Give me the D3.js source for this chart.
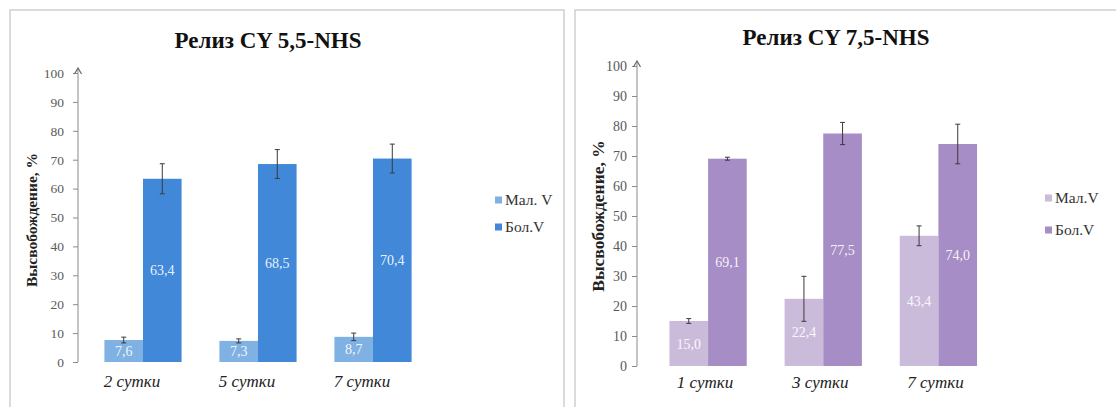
<!DOCTYPE html>
<html>
<head>
<meta charset="utf-8">
<script src="https://cdn.jsdelivr.net/npm/d3@7/dist/d3.min.js"></script>
<style>
  html, body { margin: 0; padding: 0; background: #fff; }
  svg { display: block; }
</style>
</head>
<body>
<svg id="chart" width="1116" height="407"></svg>
<script>
// Release of CY 5,5-NHS (panel A) and CY 7,5-NHS (panel B), %
const titleA = "Релиз CY 5,5-NHS";
const daysA = ["2 сутки", "5 сутки", "7 сутки"];
const smallA = [7.6, 7.3, 8.7];
const smallErrA = [1.0, 0.7, 1.3];
const largeA = [63.4, 68.5, 70.4];
const largeErrA = [5.2, 5.0, 5.0];

const titleB = "Релиз CY 7,5-NHS";
const daysB = ["1 сутки", "3 сутки", "7 сутки"];
const smallB = [15.0, 22.4, 43.4];
const smallErrB = [0.8, 7.5, 3.3];
const largeB = [69.1, 77.5, 74.0];
const largeErrB = [0.5, 3.7, 6.6];

const yTicks = [0, 10, 20, 30, 40, 50, 60, 70, 80, 90, 100];
const seriesKeys = ["small", "large"];
const yTitle = "Высвобождение, %";

const SERIF = "'Liberation Serif', 'DejaVu Serif', 'Times New Roman', Times, serif";

const svg = d3.select("#chart");

// panel frames
svg.append("rect").attr("x", 10).attr("y", 10).attr("width", 554).attr("height", 420)
  .attr("fill", "none").attr("stroke", "#cfcfcf").attr("stroke-width", 1.5);
svg.append("rect").attr("x", 575).attr("y", 10).attr("width", 560).attr("height", 420)
  .attr("fill", "none").attr("stroke", "#cfcfcf").attr("stroke-width", 1.5);

const fmt = v => d3.format(".1f")(v).replace(".", ",");

function drawPanel(cfg) {
  const g = svg.append("g");
  const y = d3.scaleLinear().domain([0, 100]).range([cfg.y0, cfg.y100]);
  const x0 = d3.scaleBand().domain(cfg.days).range(cfg.xRange).padding(0);
  const x1 = d3.scaleBand().domain(seriesKeys).range([0, x0.bandwidth()])
    .paddingInner(0).paddingOuter(cfg.outerPad);

  const rows = cfg.days.map((d, i) => ({
    day: d,
    bars: [
      { key: "small", v: cfg.small[i], e: cfg.smallErr[i] },
      { key: "large", v: cfg.large[i], e: cfg.largeErr[i] }
    ]
  }));
  const color = d3.scaleOrdinal().domain(seriesKeys).range(cfg.colors);

  // title
  g.append("text").attr("x", cfg.titleX).attr("y", cfg.titleY)
    .attr("text-anchor", "middle").attr("font-size", cfg.titleSize).attr("font-weight", "bold")
    .attr("font-family", SERIF).attr("fill", "#111").text(cfg.title);

  // y axis
  const axis = g.append("g").attr("transform", `translate(${cfg.axisX},0)`)
    .call(d3.axisLeft(y).tickValues(yTicks).tickSize(5).tickPadding(cfg.tickPad).tickFormat(d3.format("d")));
  axis.attr("font-family", SERIF);
  axis.select(".domain").attr("d", `M0,${cfg.y0}V${cfg.y100 - 4}`).attr("stroke", "#8a8a8a");
  axis.selectAll(".tick line").attr("stroke", "#8a8a8a");
  axis.selectAll(".tick text").attr("fill", "#5a5a5a").attr("font-size", cfg.tickSize);
  // open arrow head on the value axis
  axis.append("path").attr("d", `M-3.5,${cfg.y100 + 1}L0,${cfg.y100 - 5}L3.5,${cfg.y100 + 1}`)
    .attr("fill", "none").attr("stroke", "#6a6a6a").attr("stroke-width", 1.2);

  // axis title
  g.append("text").attr("transform", `translate(${cfg.yTitleX},${cfg.yTitleY}) rotate(-90)`)
    .attr("text-anchor", "middle").attr("font-size", cfg.yTitleSize).attr("font-weight", "bold")
    .attr("font-family", SERIF).attr("fill", "#222").text(yTitle);

  // bars
  const groups = g.selectAll(".grp").data(rows).join("g")
    .attr("transform", d => `translate(${x0(d.day)},0)`);
  groups.selectAll("rect").data(d => d.bars).join("rect")
    .attr("x", d => x1(d.key)).attr("width", x1.bandwidth())
    .attr("y", d => y(d.v)).attr("height", d => y(0) - y(d.v))
    .attr("fill", d => color(d.key));

  // value labels
  groups.selectAll(".val").data(d => d.bars).join("text")
    .attr("x", d => x1(d.key) + x1.bandwidth() / 2)
    .attr("y", d => y(d.v / 2) + 5)
    .attr("text-anchor", "middle").attr("font-size", cfg.valSize).attr("font-family", SERIF)
    .attr("fill", "#fff").attr("fill-opacity", 0.9).text(d => fmt(d.v));

  // error bars
  const err = groups.selectAll(".err").data(d => d.bars).join("g")
    .attr("transform", d => `translate(${x1(d.key) + x1.bandwidth() / 2},0)`)
    .attr("stroke", "#3a3a3a").attr("stroke-width", 1);
  err.append("line").attr("y1", d => y(d.v + d.e)).attr("y2", d => y(d.v - d.e));
  err.append("line").attr("x1", -2.5).attr("x2", 2.5).attr("y1", d => y(d.v + d.e)).attr("y2", d => y(d.v + d.e));
  err.append("line").attr("x1", -2.5).attr("x2", 2.5).attr("y1", d => y(d.v - d.e)).attr("y2", d => y(d.v - d.e));

  // category labels
  g.selectAll(".cat").data(cfg.days).join("text")
    .attr("x", d => x0(d) + x0.bandwidth() / 2 + cfg.catShift)
    .attr("y", cfg.catY).attr("text-anchor", "middle")
    .attr("font-size", cfg.catSize).attr("font-style", "italic").attr("font-family", SERIF)
    .attr("fill", "#222").text(d => d);

  // legend
  const leg = g.selectAll(".leg").data(seriesKeys).join("g")
    .attr("transform", (d, i) => `translate(${cfg.legX},${cfg.legY[i]})`);
  leg.append("rect").attr("x", 0).attr("y", -3.5).attr("width", 7).attr("height", 7)
    .attr("fill", d => color(d));
  leg.append("text").attr("x", 10).attr("y", 5).attr("font-size", cfg.legSize)
    .attr("font-family", SERIF).attr("fill", "#333").text((d, i) => cfg.legLabels[i]);
}

drawPanel({
  title: titleA, days: daysA, small: smallA, smallErr: smallErrA, large: largeA, largeErr: largeErrA,
  colors: ["#7fb1e3", "#4189d8"],
  y0: 362, y100: 73, axisX: 78, xRange: [85.5, 430.5], outerPad: 0.49,
  titleX: 268, titleY: 48, titleSize: 23, tickSize: 13.5, tickPad: 9,
  yTitleX: 37, yTitleY: 220, yTitleSize: 15.5, valSize: 14,
  catY: 387, catSize: 17, catShift: -11,
  legX: 495, legY: [200, 227], legSize: 15.5, legLabels: ["Мал. V", "Бол.V"]
});

drawPanel({
  title: titleB, days: daysB, small: smallB, smallErr: smallErrB, large: largeB, largeErr: largeErrB,
  colors: ["#cbbbdb", "#a68dc5"],
  y0: 366, y100: 66, axisX: 637, xRange: [650.5, 996], outerPad: 0.49,
  titleX: 836, titleY: 45, titleSize: 23, tickSize: 14, tickPad: 5,
  yTitleX: 604, yTitleY: 216, yTitleSize: 17.5, valSize: 14,
  catY: 388, catSize: 17, catShift: -3,
  legX: 1045, legY: [198, 230], legSize: 15.5, legLabels: ["Мал.V", "Бол.V"]
});
</script>
</body>
</html>
